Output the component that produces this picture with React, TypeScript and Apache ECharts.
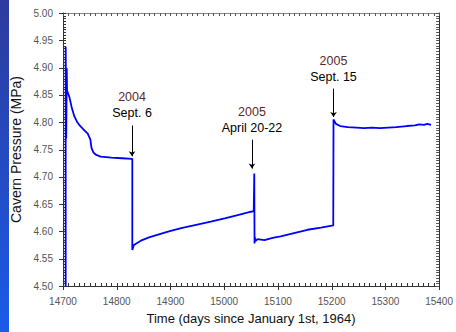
import React, { useEffect, useRef } from "react";
import * as echarts from "echarts";

// Time (days since Jan 1st, 1964) and cavern pressure (MPa)
const days: number[] = [
  14705, 14705, 14706, 14707, 14707.5, 14712, 14716, 14721, 14726, 14731,
  14738, 14746, 14751, 14753, 14757, 14762, 14770, 14790, 14810, 14829,
  14829, 14832, 14845, 14860, 14880, 14897, 14920, 14952, 14975, 15001,
  15025, 15050, 15055, 15056, 15056.5, 15057, 15058, 15062, 15075, 15090,
  15105, 15130, 15155, 15180, 15203, 15203.5, 15208, 15216, 15230, 15246,
  15260, 15275, 15290, 15305, 15320, 15340, 15355, 15363, 15372, 15378,
  15385,
];
const pressure: number[] = [
  4.5, 4.938, 4.77, 4.899, 4.858, 4.846, 4.828, 4.811, 4.801, 4.794,
  4.787, 4.779, 4.768, 4.753, 4.744, 4.74, 4.737, 4.735, 4.734, 4.733,
  4.566, 4.575, 4.583, 4.589, 4.595, 4.6, 4.606, 4.613, 4.618, 4.624,
  4.63, 4.636, 4.637, 4.706, 4.578, 4.59, 4.582, 4.586, 4.584, 4.588,
  4.591, 4.597, 4.603, 4.607, 4.611, 4.805, 4.797, 4.793, 4.791, 4.79,
  4.789, 4.79, 4.789, 4.79, 4.791, 4.793, 4.794, 4.796, 4.795, 4.797,
  4.795,
];

// Annotations (arrows)
const annYears: string[] = ["2004", "2005", "2005"];
const annDates: string[] = ["Sept. 6", "April 20-22", "Sept. 15"];
const annDays: number[] = [14828.5, 15051.7, 15203.5];
const annTop: number[] = [4.794, 4.768, 4.8615];
const annTip: number[] = [4.7375, 4.715, 4.8095];

const xMin = 14700;
const xMax = 15400;
const xStep = 100;
const xMinorStep = 10;
const yMin = 4.5;
const yMax = 5.0;
const yStep = 0.05;
const yMinorStep = 0.005;

const FONT = "'Liberation Sans', Arial, sans-serif";

export default function App() {
  const ref = useRef<HTMLDivElement>(null);

  useEffect(() => {
    if (!ref.current) return;
    const chart = echarts.init(ref.current, null, { renderer: "svg" });
    const data = days.map((d, i) => [d, pressure[i]]);
    const lineColor = "#333";

    // tick items: [value, kind]
    // 0 x-bottom major, 1 x-bottom minor, 2 x-top minor, 3 y-left major, 4 y-left minor, 5 y-right minor
    const tickItems: number[][] = [];
    const nxMinor = Math.round((xMax - xMin) / xMinorStep);
    for (let i = 0; i <= nxMinor; i++) {
      const v = xMin + i * xMinorStep;
      const isMajor = i % Math.round(xStep / xMinorStep) === 0;
      tickItems.push([v, isMajor ? 0 : 1]);
      tickItems.push([v, 2]);
    }
    const nyMinor = Math.round((yMax - yMin) / yMinorStep);
    for (let i = 0; i <= nyMinor; i++) {
      const v = +(yMin + i * yMinorStep).toFixed(4);
      const isMajor = i % Math.round(yStep / yMinorStep) === 0;
      tickItems.push([v, isMajor ? 3 : 4]);
      tickItems.push([v, 5]);
    }

    const crisp = (p: number) => Math.round(p) + 0.5;

    chart.setOption({
      animation: false,
      backgroundColor: "#ffffff",
      textStyle: { fontFamily: FONT },
      grid: { left: 63, top: 13, right: 13, bottom: 46, containLabel: false },
      graphic: [
        {
          type: "rect",
          left: 0,
          top: 0,
          shape: { x: 0, y: 0, width: 9, height: 332 },
          style: {
            fill: new echarts.graphic.LinearGradient(0, 0, 0, 1, [
              { offset: 0, color: "#2e3b9d" },
              { offset: 1, color: "#1a5be8" },
            ]),
          },
          silent: true,
        },
      ],
      xAxis: [
        {
          type: "value",
          min: xMin,
          max: xMax,
          interval: xStep,
          position: "bottom",
          name: "Time (days since January 1st, 1964)",
          nameLocation: "middle",
          nameGap: 26,
          nameTextStyle: { fontSize: 13, color: "#111", fontFamily: FONT },
          splitLine: { show: false },
          axisLine: { show: true, lineStyle: { color: lineColor, width: 1 } },
          axisTick: { show: false },
          axisLabel: {
            color: "#555",
            fontSize: 10,
            margin: 10,
            fontFamily: FONT,
            formatter: (v: number) => String(v),
          },
        },
        {
          type: "value",
          min: xMin,
          max: xMax,
          interval: xStep,
          position: "top",
          splitLine: { show: false },
          axisLine: { show: true, lineStyle: { color: "#888", width: 1 } },
          axisTick: { show: false },
          axisLabel: { show: false },
        },
      ],
      yAxis: [
        {
          type: "value",
          min: yMin,
          max: yMax,
          interval: yStep,
          position: "left",
          name: "Cavern Pressure (MPa)",
          nameLocation: "middle",
          nameGap: 28,
          nameRotate: 90,
          nameTextStyle: { fontSize: 14, color: "#111", fontFamily: FONT },
          splitLine: { show: false },
          axisLine: { show: true, lineStyle: { color: lineColor, width: 1 } },
          axisTick: { show: false },
          axisLabel: {
            color: "#555",
            fontSize: 10,
            margin: 10,
            fontFamily: FONT,
            formatter: (v: number) => v.toFixed(2),
          },
        },
        {
          type: "value",
          min: yMin,
          max: yMax,
          interval: yStep,
          position: "right",
          splitLine: { show: false },
          axisLine: { show: true, lineStyle: { color: lineColor, width: 1 } },
          axisTick: { show: false },
          axisLabel: { show: false },
        },
      ],
      series: [
        {
          type: "custom",
          xAxisIndex: 0,
          yAxisIndex: 0,
          silent: true,
          clip: false,
          z: 3,
          data: tickItems,
          renderItem: (_params: any, api: any) => {
            const v = api.value(0);
            const kind = api.value(1);
            let x1 = 0, y1 = 0, x2 = 0, y2 = 0;
            let color = "#333";
            if (kind <= 2) {
              const p = api.coord([v, kind === 2 ? yMax : yMin]);
              const x = crisp(p[0]);
              x1 = x; x2 = x;
              if (kind === 0) { y1 = p[1] + 4; y2 = p[1] - 3; }
              else if (kind === 1) { y1 = p[1]; y2 = p[1] - 3; }
              else { y1 = p[1]; y2 = p[1] + 3; color = "#555"; }
            } else {
              const p = api.coord([kind === 5 ? xMax : xMin, v]);
              const y = crisp(p[1]);
              y1 = y; y2 = y;
              if (kind === 3) { x1 = p[0] - 4; x2 = p[0] + 3; }
              else if (kind === 4) { x1 = p[0]; x2 = p[0] + 3; }
              else { x1 = p[0]; x2 = p[0] - 3; color = "#555"; }
            }
            return {
              type: "line",
              shape: { x1, y1, x2, y2 },
              style: { stroke: color, lineWidth: 1 },
            };
          },
        },
        {
          type: "line",
          xAxisIndex: 0,
          yAxisIndex: 0,
          data,
          showSymbol: false,
          symbol: "none",
          lineStyle: { color: "#0000ff", width: 1.8 },
          silent: true,
          z: 5,
          markLine: {
            silent: true,
            symbol: ["none", "arrow"],
            symbolSize: 5,
            lineStyle: { color: "#000", width: 1, type: "solid" },
            emphasis: { disabled: true },
            data: annDays.map((d, i) => [
              {
                coord: [d, annTop[i]],
                label: {
                  show: true,
                  position: "start",
                  distance: 4,
                  formatter: `{a|${annYears[i]}}\n{b|${annDates[i]}}`,
                  rich: {
                    a: { color: "#5a2a2e", fontSize: 12.5, lineHeight: 16, fontFamily: FONT },
                    b: { color: "#000", fontSize: 12.5, lineHeight: 16, fontFamily: FONT },
                  },
                },
              },
              { coord: [d, annTip[i]] },
            ]),
          },
        },
      ],
    });
    return () => chart.dispose();
  }, []);

  return (
    <div
      style={{ position: "fixed", left: 0, top: 0, width: 456, height: 332, background: "#fff" }}
    >
      <div ref={ref} style={{ width: 456, height: 332 }} />
    </div>
  );
}
